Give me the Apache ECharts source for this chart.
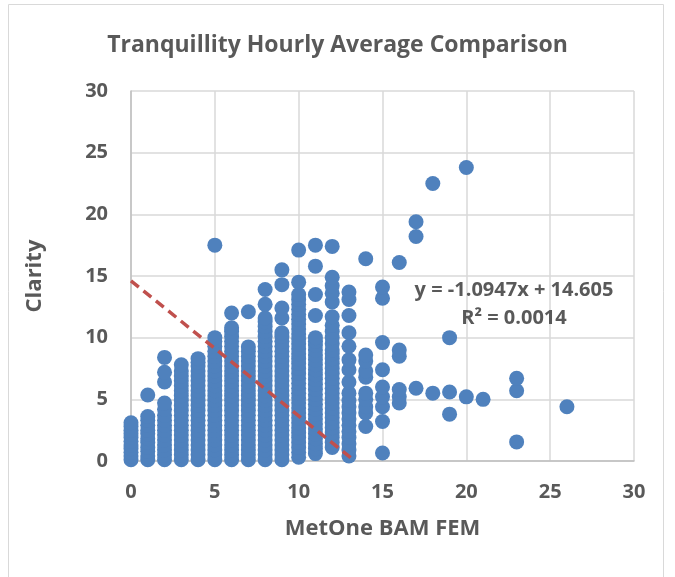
<!DOCTYPE html>
<html>
<head>
<meta charset="utf-8">
<script src="https://cdn.jsdelivr.net/npm/echarts@6/dist/echarts.min.js"></script>
<style>
  html, body { margin: 0; padding: 0; background: #fff; }
  #chart { width: 675px; height: 577px; }
</style>
</head>
<body>
<div id="chart"></div>
<script>
// Clarity readings, grouped by the MetOne BAM FEM value (x)
const xValues = [0, 1, 2, 3, 4, 5, 6, 7, 8, 9, 10, 11, 12, 13, 14, 15, 16, 17, 18, 19, 20, 21, 23, 26]

const col0 = [0.1, 0.4, 0.7, 1.0, 1.3, 1.6, 1.9, 2.2, 2.5, 2.8, 3.1]
const col1 = [0.1, 0.4, 0.8, 1.1, 1.5, 1.8, 2.2, 2.5, 2.9, 3.3, 3.6, 5.35]
const col2 = [0.1, 0.5, 0.9, 1.3, 1.7, 2.1, 2.5, 2.9, 3.3, 3.7, 4.2, 4.7, 6.4, 7.2, 8.4]
const col3 = [0.1, 0.5, 0.9, 1.3, 1.7, 2.1, 2.5, 2.9, 3.3, 3.7, 4.1, 4.5, 4.9, 5.3, 5.7, 6.1, 6.5, 6.9, 7.3, 7.8]
const col4 = [0.1, 0.5, 0.9, 1.3, 1.7, 2.1, 2.5, 2.9, 3.3, 3.7, 4.1, 4.5, 4.9, 5.3, 5.7, 6.1, 6.5, 6.9, 7.3, 7.7, 8.0, 8.3]
const col5 = [0.1, 0.5, 0.9, 1.3, 1.7, 2.1, 2.5, 2.9, 3.3, 3.7, 4.1, 4.5, 4.9, 5.3, 5.7, 6.1, 6.5, 6.9, 7.3, 7.7, 8.1, 8.5, 8.9, 9.3, 9.7, 10.0, 17.5]
const col6 = [0.1, 0.5, 0.9, 1.3, 1.7, 2.1, 2.5, 2.9, 3.3, 3.7, 4.1, 4.5, 4.9, 5.3, 5.7, 6.1, 6.5, 6.9, 7.3, 7.7, 8.1, 8.5, 8.9, 9.3, 9.7, 10.1, 10.5, 10.8, 12.0]
const col7 = [0.1, 0.5, 0.9, 1.3, 1.7, 2.1, 2.5, 2.9, 3.3, 3.7, 4.1, 4.5, 4.9, 5.3, 5.7, 6.1, 6.5, 6.9, 7.3, 7.7, 8.1, 8.5, 8.9, 9.25, 12.1]
const col8 = [0.1, 0.5, 0.9, 1.3, 1.7, 2.1, 2.5, 2.9, 3.3, 3.7, 4.1, 4.5, 4.9, 5.3, 5.7, 6.1, 6.5, 6.9, 7.3, 7.7, 8.1, 8.5, 8.9, 9.3, 9.7, 10.1, 10.5, 10.9, 11.3, 11.6, 12.7, 13.9]
const col9 = [0.1, 0.5, 0.9, 1.3, 1.7, 2.1, 2.5, 2.9, 3.3, 3.7, 4.1, 4.5, 4.9, 5.3, 5.7, 6.1, 6.5, 6.9, 7.3, 7.7, 8.1, 8.5, 8.9, 9.3, 9.7, 10.1, 10.4, 11.6, 12.4, 14.3, 15.5]
const col10 = [0.3, 0.7, 1.1, 1.5, 1.9, 2.3, 2.7, 3.1, 3.5, 3.9, 4.3, 4.7, 5.1, 5.5, 5.9, 6.3, 6.7, 7.1, 7.5, 7.9, 8.3, 8.7, 9.1, 9.5, 9.9, 10.3, 10.7, 11.1, 11.5, 11.9, 12.3, 12.7, 13.1, 13.5, 14.5, 17.1]
const col11 = [0.6, 1.0, 1.4, 1.8, 2.2, 2.6, 3.0, 3.4, 3.8, 4.2, 4.6, 5.0, 5.4, 5.8, 6.2, 6.6, 7.0, 7.4, 7.8, 8.2, 8.6, 9.0, 9.4, 9.7, 10.0, 11.8, 13.5, 15.8, 17.5]
const col12 = [1.1, 1.5, 1.9, 2.3, 2.7, 3.1, 3.5, 3.9, 4.3, 4.7, 5.1, 5.5, 5.9, 6.3, 6.7, 7.1, 7.5, 7.9, 8.3, 8.7, 9.0, 9.5, 10.0, 10.5, 11.0, 11.7, 12.9, 13.6, 14.2, 14.9, 17.4]
const col13 = [0.4, 0.9, 1.4, 1.9, 2.4, 2.9, 3.4, 3.9, 4.4, 4.9, 5.5, 6.4, 7.4, 8.2, 9.3, 10.4, 11.8, 13.1, 13.7]
const col14 = [2.8, 3.9, 4.4, 5.0, 5.5, 6.8, 7.3, 8.1, 8.6, 16.4]
const col15 = [0.65, 3.2, 4.4, 5.2, 6.0, 7.4, 9.6, 13.2, 14.1]
const col16 = [4.7, 5.2, 5.8, 8.5, 9.0, 16.1]
const col17 = [5.9, 18.2, 19.4]
const col18 = [5.5, 22.5]
const col19 = [3.8, 5.6, 10.0]
const col20 = [5.2, 23.8]
const col21 = [5.0]
const col23 = [1.55, 5.7, 6.7]
const col26 = [4.4]

const columns = [col0, col1, col2, col3, col4, col5, col6, col7, col8, col9, col10, col11, col12,
  col13, col14, col15, col16, col17, col18, col19, col20, col21, col23, col26]

// Linear trendline reported on the chart
const slope = -1.0947
const intercept = 14.605
const rSquared = '0.0014'

const axisTicks = [0, 5, 10, 15, 20, 25, 30]

const points = []
columns.forEach((col, i) => col.forEach(y => points.push([xValues[i], y])))

// trendline drawn from x = 0 until it meets the x axis
const trendData = [[0, intercept], [-intercept / slope, 0]]

const TEXT = '#595959'
const FONT = 'Open Sans'

const chart = echarts.init(document.getElementById('chart'))
chart.setOption({
  animation: false,
  title: {
    text: 'Tranquillity Hourly Average Comparison',
    left: 'center',
    top: 29,
    textStyle: { color: TEXT, fontFamily: FONT, fontWeight: 'bold', fontSize: 23 }
  },
  grid: { left: 131, right: 41, top: 91, bottom: 116 },
  xAxis: {
    type: 'value',
    min: axisTicks[0],
    max: axisTicks[axisTicks.length - 1],
    interval: 5,
    name: 'MetOne BAM FEM',
    nameLocation: 'middle',
    nameGap: 57,
    nameTextStyle: { color: TEXT, fontFamily: FONT, fontWeight: 'bold', fontSize: 22 },
    axisLine: { show: true, lineStyle: { color: '#bfbfbf', width: 1.5 } },
    axisTick: { show: false },
    axisLabel: { color: TEXT, fontFamily: FONT, fontWeight: 'bold', fontSize: 20, margin: 21 },
    splitLine: { lineStyle: { color: '#d9d9d9', width: 1.5 } }
  },
  yAxis: {
    type: 'value',
    min: axisTicks[0],
    max: axisTicks[axisTicks.length - 1],
    interval: 5,
    name: 'Clarity',
    nameLocation: 'middle',
    nameGap: 85,
    nameTextStyle: { color: TEXT, fontFamily: FONT, fontWeight: 'bold', fontSize: 22 },
    axisLine: { show: true, lineStyle: { color: '#bfbfbf', width: 1.5 } },
    axisTick: { show: false },
    axisLabel: { color: TEXT, fontFamily: FONT, fontWeight: 'bold', fontSize: 20, margin: 23 },
    splitLine: { lineStyle: { color: '#d9d9d9', width: 1.5 } }
  },
  graphic: [
    { type: 'rect', shape: { x: 8.5, y: 4.5, width: 655, height: 600 }, style: { fill: 'none', stroke: '#d9d9d9', lineWidth: 1 }, silent: true },
    { type: 'text', x: 514, y: 290, style: { text: 'y = ' + slope + 'x + ' + intercept, fill: TEXT, font: 'bold 20px "Open Sans"', align: 'center', verticalAlign: 'middle' }, z: 10 },
    { type: 'text', x: 514, y: 318, style: { text: 'R² = ' + rSquared, fill: TEXT, font: 'bold 20px "Open Sans"', align: 'center', verticalAlign: 'middle' }, z: 10 }
  ],
  series: [
    {
      type: 'scatter',
      data: points,
      symbolSize: 15,
      itemStyle: { color: '#4f81bd', opacity: 1 },
      z: 2
    },
    {
      type: 'line',
      data: trendData,
      symbol: 'none',
      lineStyle: { color: '#c0504d', width: 3.5, type: [10, 6] },
      z: 3
    }
  ]
})
</script>
</body>
</html>
